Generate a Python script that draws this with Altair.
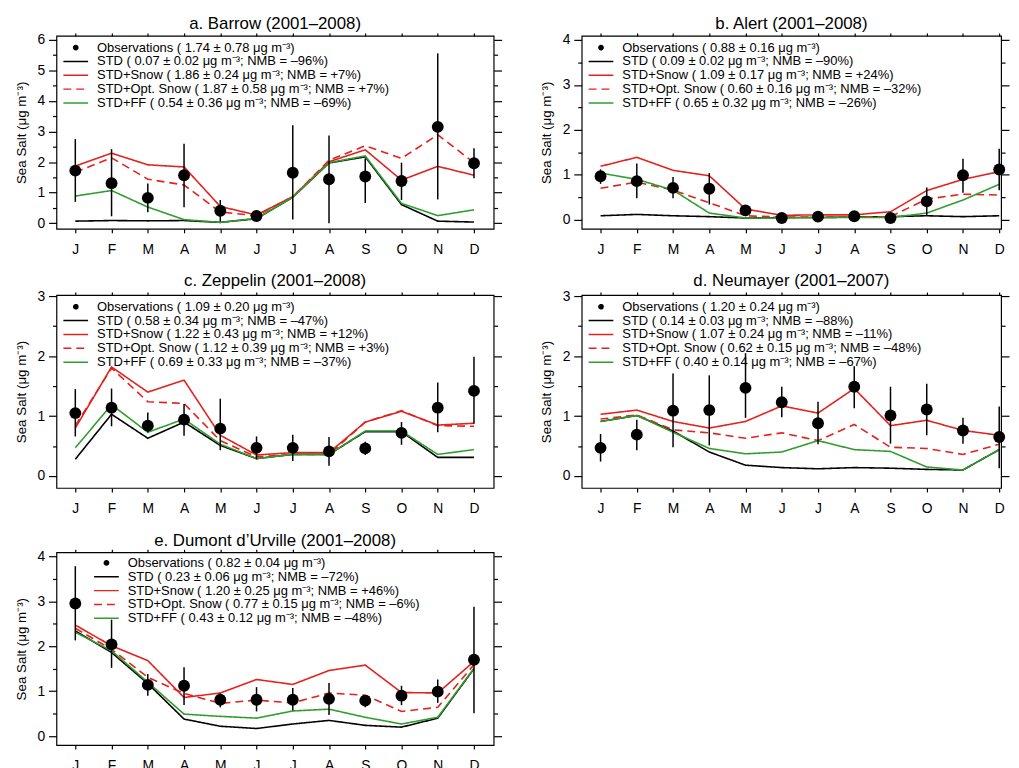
import json
import altair as alt
import pandas as pd

FONT = "Liberation Sans"

MONTH_LABELS = ["J", "F", "M", "A", "M", "J", "J", "A", "S", "O", "N", "D"]
MONTHS = list(range(1, 13))

# ---------------- a. Barrow ----------------
BRW_TITLE = "a. Barrow (2001–2008)"
BRW_LABELS = [
    "Observations ( 1.74 ± 0.78 μg m⁻³)",
    "STD ( 0.07 ± 0.02 μg m⁻³; NMB = –96%)",
    "STD+Snow ( 1.86 ± 0.24 μg m⁻³; NMB = +7%)",
    "STD+Opt. Snow ( 1.87 ± 0.58 μg m⁻³; NMB = +7%)",
    "STD+FF ( 0.54 ± 0.36 μg m⁻³; NMB = –69%)",
]
BRW_OBS = [1.72, 1.31, 0.83, 1.57, 0.41, 0.24, 1.65, 1.44, 1.53, 1.38, 3.15, 1.96]
BRW_LO = [0.70, 0.23, 0.36, 0.52, 0.06, 0.14, 0.12, 0.00, 0.66, 0.76, 0.78, 1.47]
BRW_HI = [2.75, 2.42, 1.30, 2.60, 0.76, 0.33, 3.20, 2.87, 2.12, 1.98, 5.55, 2.45]
BRW_STD = [0.07, 0.09, 0.08, 0.09, 0.03, 0.15, 0.85, 1.97, 2.17, 0.61, 0.07, 0.04]
BRW_SNOW = [1.87, 2.29, 1.91, 1.84, 0.55, 0.27, 0.87, 2.01, 2.40, 1.41, 1.86, 1.57]
BRW_OPT = [1.67, 2.14, 1.44, 1.25, 0.37, 0.25, 0.87, 2.06, 2.53, 2.12, 2.89, 1.98]
BRW_FF = [0.89, 1.07, 0.53, 0.12, 0.03, 0.16, 0.85, 1.98, 2.20, 0.65, 0.25, 0.44]

# ---------------- b. Alert ----------------
ALT_TITLE = "b. Alert (2001–2008)"
ALT_LABELS = [
    "Observations ( 0.88 ± 0.16 μg m⁻³)",
    "STD ( 0.09 ± 0.02 μg m⁻³; NMB = –90%)",
    "STD+Snow ( 1.09 ± 0.17 μg m⁻³; NMB = +24%)",
    "STD+Opt. Snow ( 0.60 ± 0.16 μg m⁻³; NMB = –32%)",
    "STD+FF ( 0.65 ± 0.32 μg m⁻³; NMB = –26%)",
]
ALT_OBS = [0.97, 0.86, 0.71, 0.69, 0.21, 0.04, 0.07, 0.08, 0.04, 0.41, 0.99, 1.12]
ALT_LO = [0.80, 0.48, 0.48, 0.34, 0.08, 0.02, 0.05, 0.06, 0.02, 0.10, 0.60, 0.66]
ALT_HI = [1.12, 1.25, 0.95, 1.04, 0.31, 0.07, 0.10, 0.11, 0.07, 0.72, 1.36, 1.58]
ALT_STD = [0.09, 0.12, 0.09, 0.07, 0.04, 0.05, 0.05, 0.06, 0.07, 0.09, 0.07, 0.09]
ALT_SNOW = [1.19, 1.39, 1.10, 0.98, 0.24, 0.10, 0.11, 0.11, 0.18, 0.65, 0.90, 1.07]
ALT_OPT = [0.70, 0.84, 0.66, 0.38, 0.09, 0.06, 0.06, 0.06, 0.07, 0.46, 0.57, 0.55]
ALT_FF = [1.04, 0.90, 0.66, 0.15, 0.04, 0.04, 0.05, 0.05, 0.05, 0.15, 0.44, 0.79]

# ---------------- c. Zeppelin ----------------
ZEP_TITLE = "c. Zeppelin (2001–2008)"
ZEP_LABELS = [
    "Observations ( 1.09 ± 0.20 μg m⁻³)",
    "STD ( 0.58 ± 0.34 μg m⁻³; NMB = –47%)",
    "STD+Snow ( 1.22 ± 0.43 μg m⁻³; NMB = +12%)",
    "STD+Opt. Snow ( 1.12 ± 0.39 μg m⁻³; NMB = +3%)",
    "STD+FF ( 0.69 ± 0.33 μg m⁻³; NMB = –37%)",
]
ZEP_OBS = [1.05, 1.14, 0.84, 0.94, 0.79, 0.47, 0.47, 0.41, 0.46, 0.72, 1.14, 1.42]
ZEP_LO = [0.66, 0.83, 0.73, 0.67, 0.43, 0.28, 0.25, 0.17, 0.35, 0.52, 0.73, 0.87]
ZEP_HI = [1.45, 1.46, 1.06, 1.20, 1.29, 0.66, 0.69, 0.65, 0.57, 0.90, 1.56, 1.99]
ZEP_STD = [0.28, 1.03, 0.63, 0.90, 0.51, 0.29, 0.36, 0.36, 0.74, 0.74, 0.31, 0.31]
ZEP_SNOW = [0.80, 1.82, 1.40, 1.60, 0.68, 0.35, 0.39, 0.39, 0.90, 1.08, 0.85, 0.88]
ZEP_OPT = [0.84, 1.80, 1.24, 1.21, 0.59, 0.32, 0.36, 0.36, 0.90, 1.09, 0.84, 0.83]
ZEP_FF = [0.47, 1.19, 0.73, 0.95, 0.53, 0.29, 0.36, 0.36, 0.75, 0.75, 0.36, 0.44]

# ---------------- d. Neumayer ----------------
NEU_TITLE = "d. Neumayer (2001–2007)"
NEU_LABELS = [
    "Observations ( 1.20 ± 0.24 μg m⁻³)",
    "STD ( 0.14 ± 0.03 μg m⁻³; NMB = –88%)",
    "STD+Snow ( 1.07 ± 0.24 μg m⁻³; NMB = –11%)",
    "STD+Opt. Snow ( 0.62 ± 0.15 μg m⁻³; NMB = –48%)",
    "STD+FF ( 0.40 ± 0.14 μg m⁻³; NMB = –67%)",
]
NEU_OBS = [0.47, 0.69, 1.09, 1.10, 1.47, 1.23, 0.88, 1.49, 1.01, 1.11, 0.76, 0.65]
NEU_LO = [0.24, 0.43, 0.48, 0.51, 0.97, 0.98, 0.53, 1.13, 0.54, 0.68, 0.54, 0.13]
NEU_HI = [0.70, 0.94, 1.71, 1.68, 2.05, 1.49, 1.24, 1.83, 1.49, 1.54, 0.97, 1.16]
NEU_STD = [0.91, 1.01, 0.75, 0.40, 0.18, 0.14, 0.12, 0.14, 0.13, 0.11, 0.10, 0.44]
NEU_SNOW = [1.03, 1.10, 0.91, 0.80, 0.91, 1.17, 1.05, 1.46, 0.84, 0.93, 0.76, 0.68]
NEU_OPT = [0.95, 1.02, 0.77, 0.72, 0.63, 0.72, 0.59, 0.86, 0.48, 0.46, 0.36, 0.53]
NEU_FF = [0.91, 1.01, 0.73, 0.46, 0.37, 0.40, 0.59, 0.44, 0.41, 0.15, 0.10, 0.44]

# ---------------- e. Dumont d'Urville ----------------
DDU_TITLE = "e. Dumont d’Urville (2001–2008)"
DDU_LABELS = [
    "Observations ( 0.82 ± 0.04 μg m⁻³)",
    "STD ( 0.23 ± 0.06 μg m⁻³; NMB = –72%)",
    "STD+Snow ( 1.20 ± 0.25 μg m⁻³; NMB = +46%)",
    "STD+Opt. Snow ( 0.77 ± 0.15 μg m⁻³; NMB = –6%)",
    "STD+FF ( 0.43 ± 0.12 μg m⁻³; NMB = –48%)",
]
DDU_OBS = [2.95, 2.04, 1.14, 1.12, 0.81, 0.81, 0.81, 0.83, 0.79, 0.90, 0.99, 1.70]
DDU_LO = [2.13, 1.52, 0.90, 0.69, 0.64, 0.55, 0.57, 0.47, 0.64, 0.69, 0.74, 0.51]
DDU_HI = [3.78, 2.59, 1.38, 1.53, 0.95, 1.09, 1.07, 1.18, 0.91, 1.12, 1.26, 2.88]
DDU_STD = [2.34, 1.86, 1.17, 0.38, 0.22, 0.17, 0.27, 0.35, 0.24, 0.20, 0.40, 1.50]
DDU_SNOW = [2.47, 2.01, 1.68, 0.86, 0.96, 1.26, 1.15, 1.46, 1.58, 0.97, 0.96, 1.66]
DDU_OPT = [2.40, 1.93, 1.31, 0.95, 0.73, 0.80, 0.74, 0.96, 0.91, 0.55, 0.64, 1.59]
DDU_FF = [2.31, 1.90, 1.20, 0.49, 0.44, 0.40, 0.56, 0.60, 0.42, 0.27, 0.42, 1.51]

# ---------------- styling ----------------
SERIES_COLORS = ["black", "black", "#e4211c", "#e4211c", "#2f9e2f"]
SERIES_DASHES = [[1, 0], [1, 0], [1, 0], [8, 5], [1, 0]]
CIRCLE_PATH = "M-0.17,0A0.17,0.17,0,1,0,0.17,0A0.17,0.17,0,1,0,-0.17,0Z"
SERIES_SHAPES = [CIRCLE_PATH, "stroke", "stroke", "stroke", "stroke"]

PANEL_H = 195
PX_PER_MONTH = 36.64
X_MIN = 0.48

MONTH_EXPR = json.dumps(MONTH_LABELS) + "[datum.value - 1]"
MAJOR = "datum.value % 1 === 0"
TICK_SIZE = {"condition": {"test": MAJOR, "value": 8}, "value": 4}


def make_panel(title, labels, obs, lo, hi, series, ydomain, ymax, legend_xy, width):
    obs_df = pd.DataFrame({"month": MONTHS, "value": obs, "lo": lo, "hi": hi,
                           "series": labels[0]})
    yticks = [k * 0.5 for k in range(0, int(ymax * 2) + 1)]

    xscale = alt.Scale(domain=[X_MIN, X_MIN + width / PX_PER_MONTH], nice=False, zero=False)
    yscale = alt.Scale(domain=ydomain, nice=False, zero=False)
    cscale = alt.Scale(domain=labels, range=SERIES_COLORS)
    dscale = alt.Scale(domain=labels, range=SERIES_DASHES)
    sscale = alt.Scale(domain=labels, range=SERIES_SHAPES)

    x_bottom = alt.Axis(orient="bottom", values=MONTHS, labelExpr=MONTH_EXPR,
                        tickSize=4, labelPadding=9.5, title=None, labelFontSize=14)
    y_left = alt.Axis(orient="left", values=yticks,
                      labelExpr=f"{MAJOR} ? '' + datum.value : ''",
                      tickSize=TICK_SIZE, labelPadding=4, labelFontSize=14,
                      title="Sea Salt (μg m⁻³)", titlePadding=9)
    x_top = alt.Axis(orient="top", values=MONTHS, tickSize=3, labels=False, title=None)
    y_right = alt.Axis(orient="right", values=yticks, tickSize=TICK_SIZE,
                       labels=False, title=None)

    leg = alt.Legend(title=None, orient="none", legendX=legend_xy[0], legendY=legend_xy[1],
                     padding=0, labelFont=FONT, labelFontSize=13.1, labelColor="black",
                     labelLimit=0, labelOffset=8, symbolSize=625, symbolStrokeWidth=1.5,
                     symbolOpacity=1, clipHeight=13.6, rowPadding=0)

    layers = []
    for i, vals in enumerate(series):
        df = pd.DataFrame({"month": MONTHS, "value": vals})
        first = i == 0
        layers.append(
            alt.Chart(df).mark_line(
                strokeWidth=1.6, color=SERIES_COLORS[i + 1], strokeDash=SERIES_DASHES[i + 1]
            ).encode(
                x=alt.X("month:Q", scale=xscale, axis=x_bottom if first else None),
                y=alt.Y("value:Q", scale=yscale, axis=y_left if first else None),
            )
        )
    bars = alt.Chart(obs_df).mark_rule(strokeWidth=1.5, color="black").encode(
        x=alt.X("month:Q", scale=xscale, axis=None),
        y=alt.Y("lo:Q", scale=yscale, axis=None),
        y2="hi:Q",
    )
    dots = alt.Chart(obs_df).mark_circle(size=144, color="black", opacity=1).encode(
        x=alt.X("month:Q", scale=xscale, axis=None),
        y=alt.Y("value:Q", scale=yscale, axis=None),
    )
    legend_layer = alt.Chart(obs_df).transform_filter("datum.month < 0").mark_point(
        filled=True, opacity=1
    ).encode(
        x=alt.X("month:Q", scale=xscale, axis=None),
        y=alt.Y("value:Q", scale=yscale, axis=None),
        color=alt.Color("series:N", scale=cscale, legend=leg),
        stroke=alt.Stroke("series:N", scale=cscale, legend=leg),
        shape=alt.Shape("series:N", scale=sscale, legend=leg),
        strokeDash=alt.StrokeDash("series:N", scale=dscale, legend=leg),
    )
    frame = alt.Chart(obs_df).mark_point(opacity=0).encode(
        x=alt.X("month:Q", scale=xscale, axis=x_top),
        y=alt.Y("value:Q", scale=yscale, axis=y_right),
    )
    return alt.layer(*layers, bars, dots, legend_layer, frame).resolve_axis(
        x="independent", y="independent"
    ).properties(
        width=width, height=PANEL_H,
        title=alt.TitleParams(title, font=FONT, fontSize=17, fontWeight="normal",
                              color="black", anchor="middle", frame="group", offset=-1),
    )


pa = make_panel(BRW_TITLE, BRW_LABELS, BRW_OBS, BRW_LO, BRW_HI,
                [BRW_STD, BRW_SNOW, BRW_OPT, BRW_FF], [-0.18, 6.12], 6, (6, 5), 442)
pb = make_panel(ALT_TITLE, ALT_LABELS, ALT_OBS, ALT_LO, ALT_HI,
                [ALT_STD, ALT_SNOW, ALT_OPT, ALT_FF], [-0.2, 4.09], 4, (6, 5), 424)
pc = make_panel(ZEP_TITLE, ZEP_LABELS, ZEP_OBS, ZEP_LO, ZEP_HI,
                [ZEP_STD, ZEP_SNOW, ZEP_OPT, ZEP_FF], [-0.2, 3.02], 3, (6, 5), 442)
pd_ = make_panel(NEU_TITLE, NEU_LABELS, NEU_OBS, NEU_LO, NEU_HI,
                 [NEU_STD, NEU_SNOW, NEU_OPT, NEU_FF], [-0.2, 3.02], 3, (6, 5), 424)
pe = make_panel(DDU_TITLE, DDU_LABELS, DDU_OBS, DDU_LO, DDU_HI,
                [DDU_STD, DDU_SNOW, DDU_OPT, DDU_FF], [-0.2, 4.09], 4, (37, 4), 442)

chart = alt.concat(
    pa, pb, pc, pd_, pe, columns=2, spacing={"row": 14, "column": 35}
).resolve_scale(
    x="independent", y="independent", color="independent", stroke="independent",
    shape="independent", strokeDash="independent"
).resolve_legend(
    color="independent", stroke="independent", shape="independent", strokeDash="independent"
).properties(
    padding={"left": 5, "top": 2, "right": 0, "bottom": 0}
).configure(font=FONT).configure_view(
    stroke="black", strokeWidth=1.2
).configure_axis(
    grid=False, domain=False, tickColor="black", tickWidth=1.2, labelColor="black",
    labelFont=FONT, titleFont=FONT, titleFontSize=13.5, titleFontWeight="normal",
    titleColor="black"
)

chart.save("out.html", embed_options={"renderer": "svg", "actions": False})
